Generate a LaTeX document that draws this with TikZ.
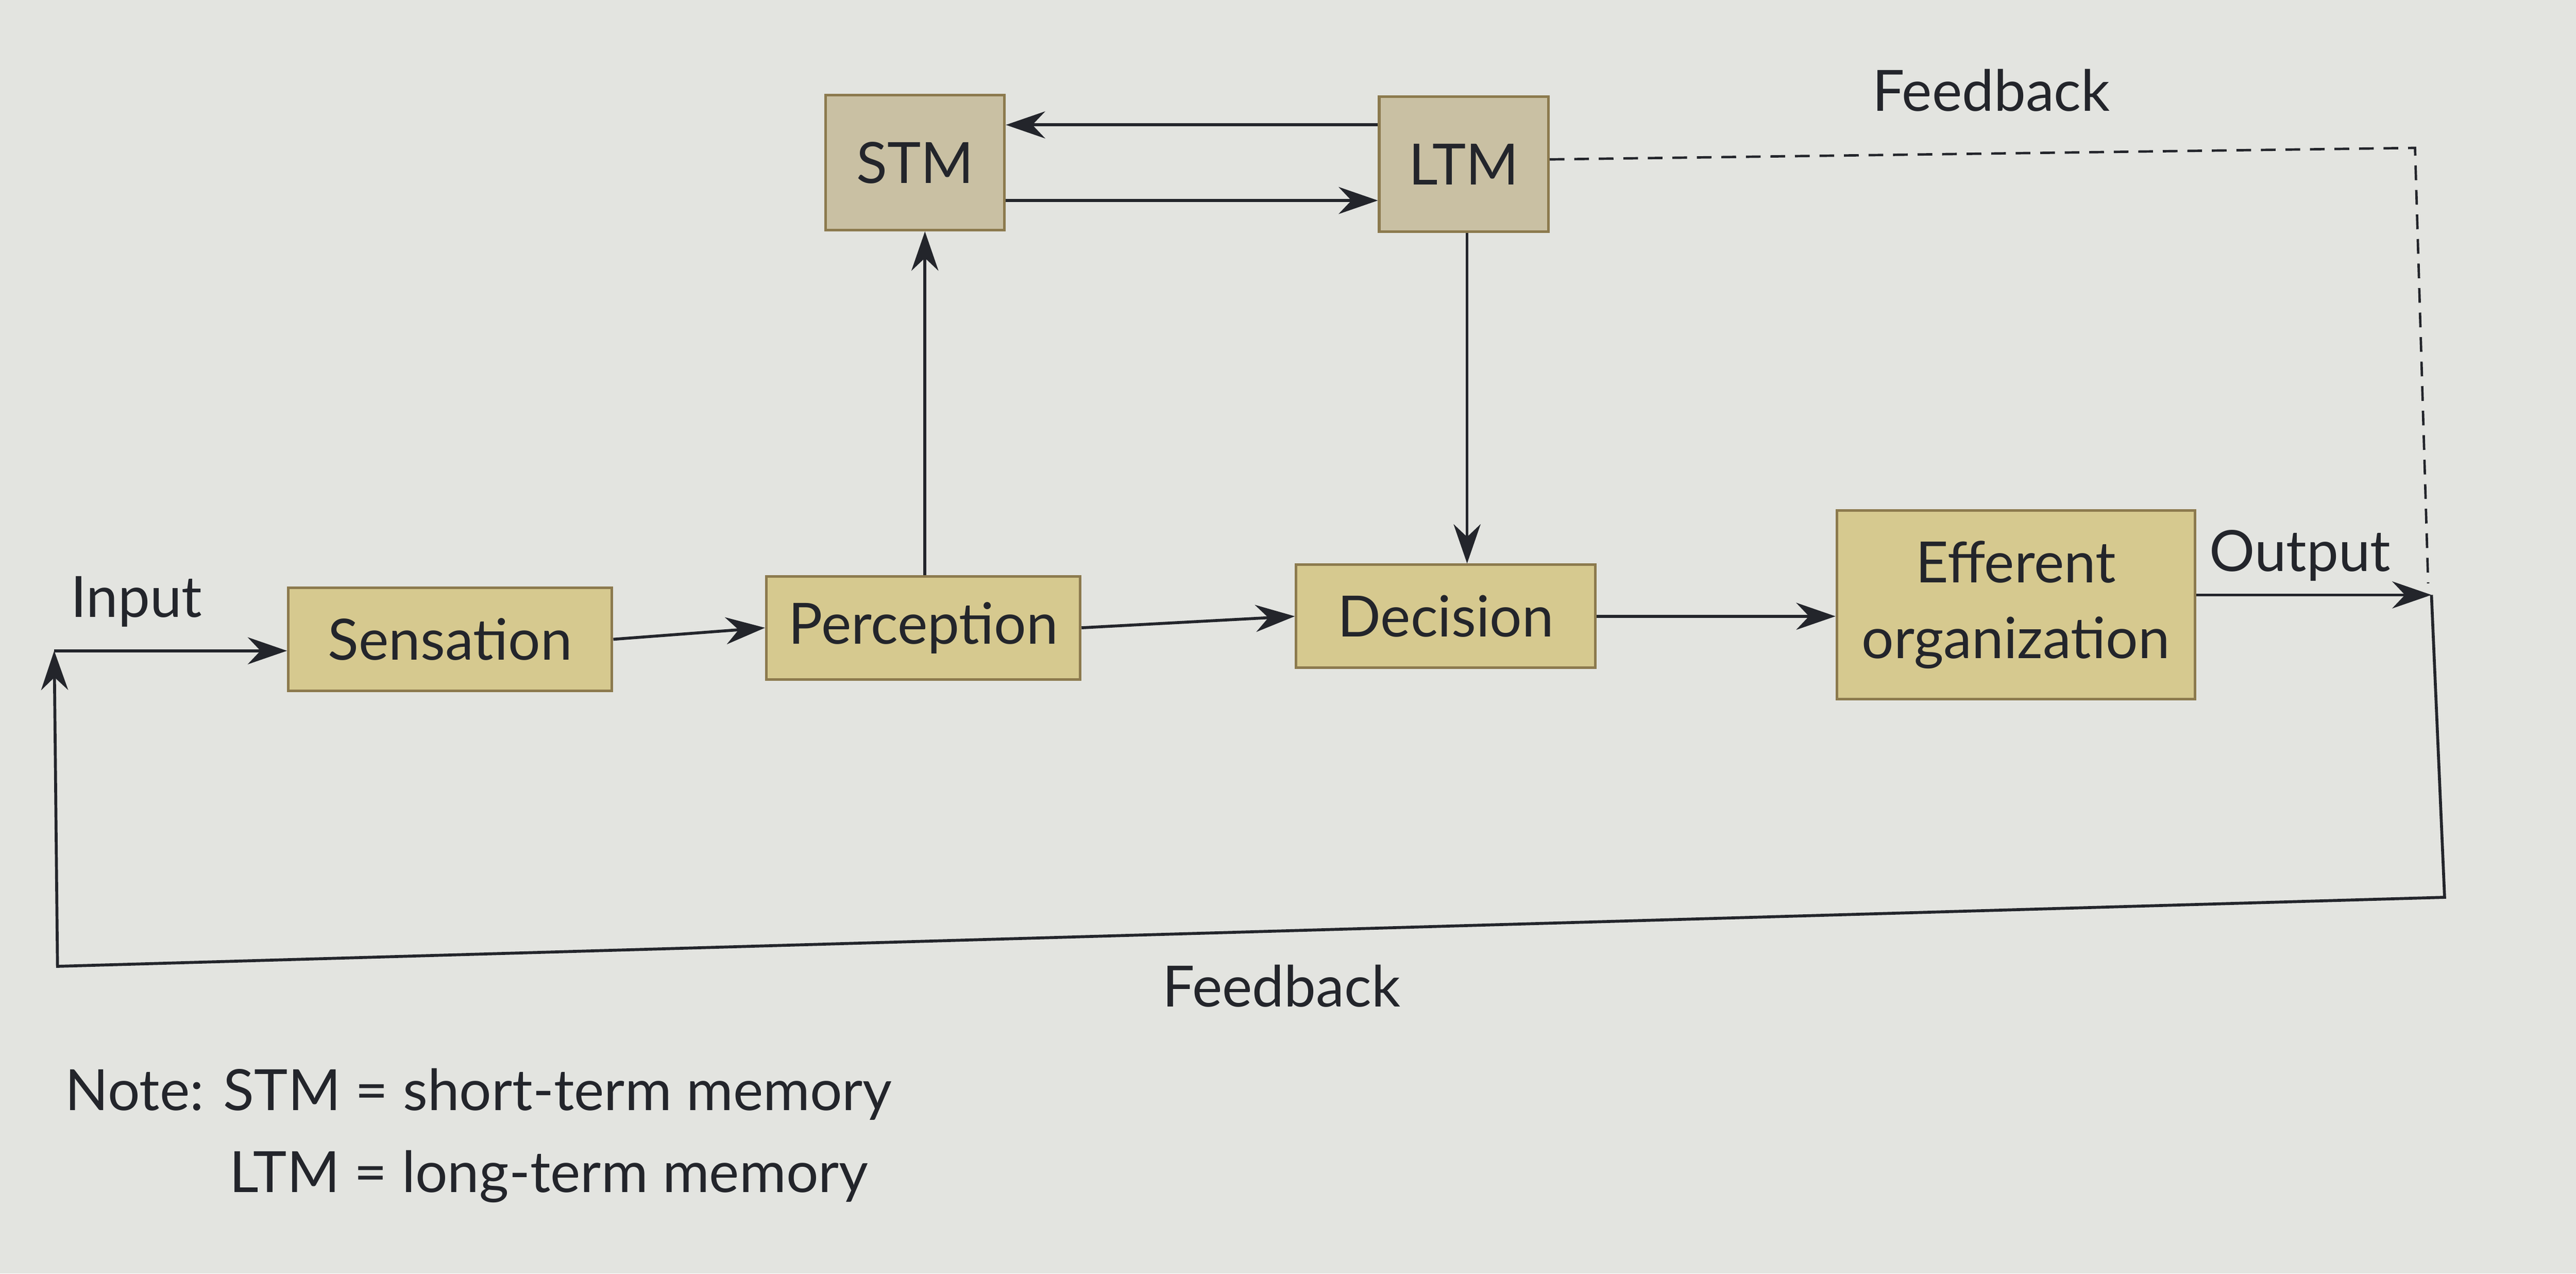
\documentclass[tikz,border=0pt]{standalone}
\usepackage{fontspec}
\setmainfont{Lato}
\usetikzlibrary{arrows.meta}
\definecolor{bg}{HTML}{E3E4E0}
\definecolor{memfill}{HTML}{C9C0A3}
\definecolor{boxfill}{HTML}{D6C98F}
\definecolor{boxdraw}{HTML}{8C7A4E}
\definecolor{ink}{HTML}{23252B}
\begin{document}
\begin{tikzpicture}[x=0.03349cm,y=-0.03349cm,
  every node/.style={font=\fontsize{33}{38}\selectfont,text=ink},
  box/.style={draw=boxdraw,line width=1.5pt,fill=boxfill,minimum height=2.1cm,inner sep=0pt,align=center},
  mem/.style={box,fill=memfill,minimum height=2.75cm},
  conn/.style={draw=ink,line width=1.7pt,-{Stealth[length=0.8cm,width=0.55cm]}},
  lbl/.style={font=\fontsize{33}{38}\selectfont}]
\fill[bg] (0,0) rectangle (1568,775);
\useasboundingbox (0,0) rectangle (1568,775);
\node[mem,minimum width=3.65cm] (stm) at (557,99) {STM};
\node[mem,minimum width=3.45cm] (ltm) at (891,100) {LTM};
\node[box,minimum width=6.6cm] (sen) at (274,389) {Sensation};
\node[box,minimum width=6.4cm] (per) at (562,382) {Perception};
\node[box,minimum width=6.1cm] (dec) at (880,375) {Decision};
\node[box,minimum width=7.3cm,minimum height=3.85cm,font=\fontsize{33}{44}\selectfont] (eff) at (1227,368) {Efferent\\organization};
\coordinate (in) at (33,396);
\coordinate (out) at (1480,362);
\coordinate (fb1) at (1488,546);
\coordinate (fb2) at (35,588);
\coordinate (d1) at (1470,90);
\draw[conn] (ltm.west|-0,76) -- (stm.east|-0,76);
\draw[conn] (stm.east|-0,122) -- (ltm.west|-0,122);
\draw[conn] (per.north-|563,0) -- (stm.south-|563,0);
\draw[conn] (ltm.south-|893,0) -- (dec.north-|893,0);
\draw[conn] (in) -- (sen.west|-in);
\draw[conn] (sen.east) -- (per.west);
\draw[conn] (per.east) -- (dec.west);
\draw[conn] (dec.east) -- (eff.west|-dec.east);
\draw[conn] (eff.east|-out) -- (out);
\draw[conn] (out) -- (fb1) -- (fb2) -- (in);
\draw[draw=ink,line width=1.4pt,dash pattern=on 0.3cm off 0.2cm] (ltm.east|-0,97) -- (d1) -- (1478,355);
\node[lbl] (linput) at (83,366) {Input};
\node[lbl] (loutput) at (1400,338) {Output};
\node[lbl] (lfbtop) at (1212,55) {Feedback};
\node[lbl] (lfbbot) at (780,600) {Feedback};
\node[lbl,anchor=west] (note1) at (36,666) {Note: STM = short-term memory};
\node[lbl,anchor=west] (note2) at (136,716) {LTM = long-term memory};
\end{tikzpicture}
\end{document}
